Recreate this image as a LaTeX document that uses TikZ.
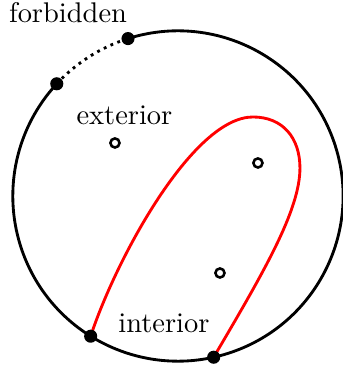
\documentclass[tikz,border=0pt]{standalone}
\usepackage{tikz}
\usetikzlibrary{calc}

\tikzset{
  endpt/.style={circle,fill=black,inner sep=0pt,minimum size=4.6pt},
  hole/.style={circle,draw=black,line width=0.9pt,fill=white,inner sep=0pt,minimum size=3.2pt},
  lbl/.style={inner sep=1pt}
}

\begin{document}
\begin{tikzpicture}
  \useasboundingbox (-2.198,-2.174) rectangle (2.038,2.421);
  \def\R{2.04}
  \coordinate (O) at (0,0);
  \coordinate (P) at (238.1:\R);
  \coordinate (Q) at (282.5:\R);
  \coordinate (top) at (0.926,0.976);
  \coordinate (rgt) at (1.507,0.346);
  % boundary circle, with the forbidden stretch dotted
  \draw[line width=1pt] (O) ++(107.6:\R) arc[start angle=107.6,end angle=-222.8,radius=\R];
  \draw[line width=1pt,dash pattern=on 1pt off 1.6pt] (O) ++(137.2:\R) arc[start angle=137.2,end angle=107.6,radius=\R];
  % red curve
  \draw[red,line width=1pt] (P) .. controls (-0.766,-0.778) and (0.185,0.976) .. (top)
    .. controls (1.297,0.976) and (1.507,0.716) .. (rgt)
    .. controls (1.507,-0.173) and (1.068,-0.926) .. (Q);
  % marked points on the circle
  \node[endpt] (f1) at (137.2:\R) {};
  \node[endpt] (f2) at (107.6:\R) {};
  \node[endpt] (p) at (P) {};
  \node[endpt] (q) at (Q) {};
  % points off the curve
  \node[hole] (ext) at (-0.778,0.655) {};
  \node[hole] (in1) at (0.988,0.408) {};
  \node[hole] (in2) at (0.519,-0.951) {};
  % labels
  \node[lbl] (forb) at (-1.358,2.262) {forbidden};
  \node[lbl] (extl) at (-0.661,1.0) {exterior};
  \node[lbl] (intl) at (-0.173,-1.568) {interior};
\end{tikzpicture}
\end{document}
